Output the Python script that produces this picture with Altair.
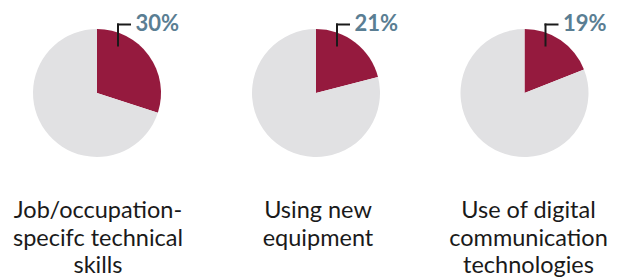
import altair as alt
import pandas as pd

# ---- data ----
categories = [
    "Job/occupation-\nspecifc technical\nskills",
    "Using new\nequipment",
    "Use of digital\ncommunication\ntechnologies",
]
shares = [30, 21, 19]
pct_labels = ["30%", "21%", "19%"]

# ---- style ----
RED = "#951a3e"
GRAY = "#e1e1e3"
PCT_COLOR = "#5a7e93"
panel_widths = [178, 260, 157]
label_shift = [1, 2, 4]
PANEL_H = 170
R = 64


def panel(i):
    w = panel_widths[i]
    cx = w / 2
    df = pd.DataFrame({
        "part": ["share", "rest"],
        "value": [shares[i], 100 - shares[i]],
        "order": [0, 1],
    })
    lab = pd.DataFrame({"cat": [categories[i]], "pct": [pct_labels[i]]})

    arc = alt.Chart(df).mark_arc(outerRadius=R).encode(
        theta=alt.Theta("value:Q", stack=True),
        color=alt.Color("part:N", scale=alt.Scale(domain=["share", "rest"], range=[RED, GRAY]), legend=None),
        order=alt.Order("order:Q"),
    )
    vline = alt.Chart(lab).mark_rule(color="#1a1a1a", strokeWidth=2).encode(
        x=alt.value(cx + 21), y=alt.value(15.5), y2=alt.value(38.5)
    )
    hline = alt.Chart(lab).mark_rule(color="#1a1a1a", strokeWidth=2).encode(
        x=alt.value(cx + 20), x2=alt.value(cx + 34), y=alt.value(16.5)
    )
    pct = alt.Chart(lab).mark_text(
        align="left", baseline="alphabetic", font="Lato", fontWeight="bold",
        fontSize=22, color=PCT_COLOR
    ).encode(x=alt.value(cx + 38.5), y=alt.value(22.5), text="pct:N")
    name = alt.Chart(lab).mark_text(
        align="center", baseline="alphabetic", font="Lato", fontSize=23.5,
        lineHeight=27.5, lineBreak="\n", color="#1a1a1a"
    ).encode(x=alt.value(cx + label_shift[i]), y=alt.value(210), text="cat:N")
    return alt.layer(arc, vline, hline, pct, name).properties(width=w, height=PANEL_H)


chart = alt.hconcat(*[panel(i) for i in range(3)], spacing=0, bounds="flush").properties(
    padding=0
).configure_view(stroke=None)

chart.save("out.html", embed_options={"renderer": "svg", "actions": False})
